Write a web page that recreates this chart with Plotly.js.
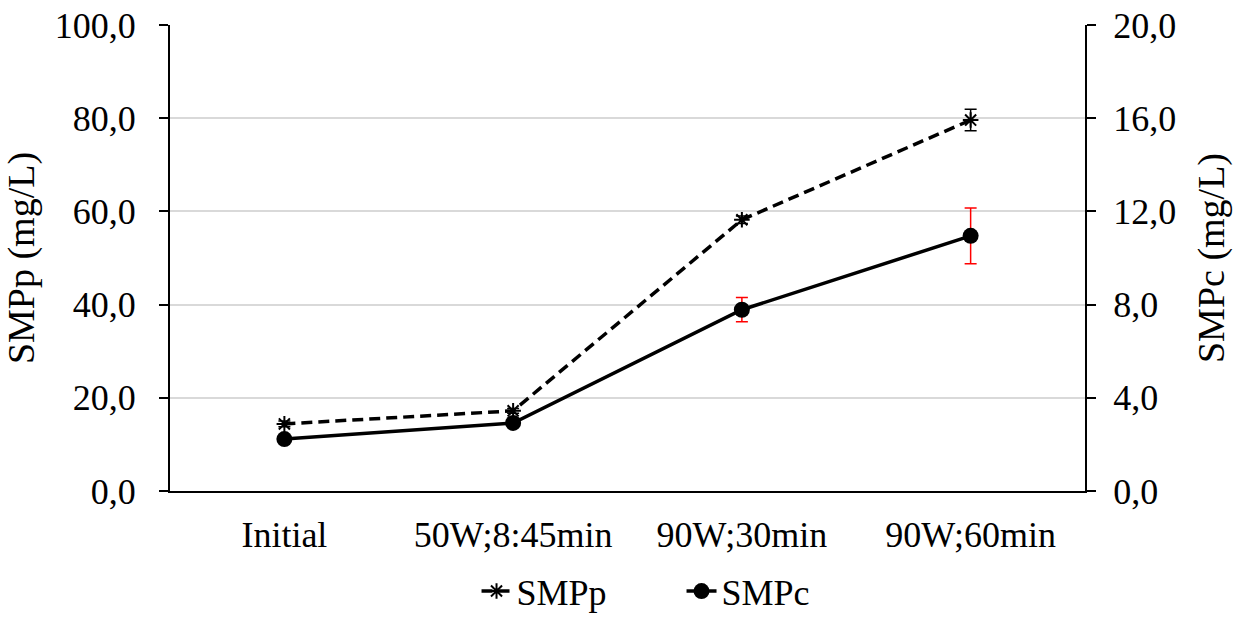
<!DOCTYPE html>
<html>
<head>
<meta charset="utf-8">
<script src="https://cdn.plot.ly/plotly-3.0.1.min.js"></script>
<style>html,body{margin:0;padding:0;background:#fff;}#chart{width:1248px;height:619px;}</style>
</head>
<body>
<div id="chart"></div>
<script>
const categories = ["Initial", "50W;8:45min", "90W;30min", "90W;60min"];
const smppValues = [14.4, 17.2, 58.2, 79.6];
const smppErrors = [0.6, 0.5, 0.8, 2.3];
const smpcValues = [2.23, 2.92, 7.78, 10.95];
const smpcErrors = [0.1, 0.1, 0.52, 1.2];

const font = {family: "Liberation Serif", size: 36, color: "#000"};
const titleFont = {family: "Liberation Serif", size: 38, color: "#000"};

const traces = [
  {
    x: categories, y: smppValues, name: "SMPp", type: "scatter", mode: "lines+markers",
    line: {color: "#000", width: 3.5, dash: "11px,6px"},
    marker: {symbol: "asterisk-open", size: 13, color: "#000", line: {color: "#000", width: 2}},
    error_y: {type: "data", array: smppErrors, visible: true, color: "#000", thickness: 1.5, width: 6},
    yaxis: "y"
  },
  {
    x: categories, y: smpcValues, name: "SMPc", type: "scatter", mode: "lines+markers",
    line: {color: "#000", width: 3.5},
    marker: {symbol: "circle", size: 16, color: "#000"},
    error_y: {type: "data", array: smpcErrors, visible: true, color: "#ff0000", thickness: 1.5, width: 6},
    yaxis: "y2"
  }
];

const layout = {
  width: 1248, height: 619,
  margin: {l: 170, r: 163, t: 25, b: 128},
  paper_bgcolor: "#fff", plot_bgcolor: "#fff",
  font: font,
  separators: ",.",
  showlegend: true,
  legend: {orientation: "h", x: 0.335, xanchor: "left", xref: "paper", yref: "container", y: 0.045, yanchor: "middle",
           font: font, entrywidth: 160, entrywidthmode: "pixels"},
  xaxis: {
    type: "category", range: [-0.5, 3.5], showgrid: false, showline: true, linecolor: "#000", linewidth: 2,
    ticks: "", tickfont: font, zeroline: false, ticklabelstandoff: 11, automargin: false
  },
  yaxis: {
    range: [0, 100], dtick: 20, tickformat: ".1f", showgrid: true, gridcolor: "#d9d9d9", gridwidth: 2,
    showline: true, linecolor: "#000", linewidth: 2, ticks: "outside", ticklen: 9, tickwidth: 2, tickcolor: "#000",
    zeroline: false, tickfont: font, ticklabelstandoff: 16, automargin: false,
    title: {text: "SMPp (mg/L)", font: titleFont, standoff: 10}
  },
  yaxis2: {
    range: [0, 20], dtick: 4, tickformat: ".1f", overlaying: "y", side: "right", showgrid: false,
    showline: true, linecolor: "#000", linewidth: 2, ticks: "outside", ticklen: 9, tickwidth: 2, tickcolor: "#000",
    zeroline: false, tickfont: font, ticklabelstandoff: 10, automargin: false,
    title: {text: "SMPc (mg/L)", font: titleFont, standoff: 22}
  }
};

Plotly.newPlot("chart", traces, layout, {displayModeBar: false, staticPlot: true});
</script>
</body>
</html>
